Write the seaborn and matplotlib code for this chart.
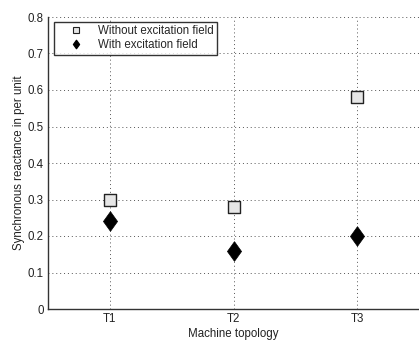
import matplotlib
matplotlib.use("Agg")
import matplotlib.pyplot as plt
import seaborn as sns
import pandas as pd
import numpy as np
from matplotlib.path import Path
from matplotlib.lines import Line2D

topologies = ["T1", "T2", "T3"]
without_field = [0.30, 0.28, 0.58]
with_field = [0.24, 0.16, 0.20]

sns.set_style("white")
plt.rcParams['font.family'] = ['Liberation Sans', 'DejaVu Sans']

FS = 8.3
fig = plt.figure(figsize=(4.19, 3.46), dpi=100)
ax = fig.add_axes([48/419, 1 - 309/346, 371/419, 292/346])

df_wo = pd.DataFrame({"topology": topologies, "value": without_field})
df_w = pd.DataFrame({"topology": topologies, "value": with_field})

diamond = Path([(0, 1), (0.72, 0), (0, -1), (-0.72, 0), (0, 1)],
               [Path.MOVETO, Path.LINETO, Path.LINETO, Path.LINETO, Path.CLOSEPOLY])

sns.scatterplot(data=df_wo, x="topology", y="value", marker="s", s=64,
                color="#e6e6e6", edgecolor="#222222", linewidth=1.0, ax=ax, zorder=3)
sns.scatterplot(data=df_w, x="topology", y="value", marker=diamond, s=200,
                color="black", edgecolor="black", linewidth=0.5, ax=ax, zorder=3)

ax.set_xlim(-0.5, 2.5)
ax.set_ylim(0, 0.8)
ax.set_yticks(np.arange(0, 0.81, 0.1))
ax.set_yticklabels(["0", "0.1", "0.2", "0.3", "0.4", "0.5", "0.6", "0.7", "0.8"])
ax.grid(True, linestyle=(0, (1, 3)), color="#555555", linewidth=0.7)
for s in ["top", "right"]:
    ax.spines[s].set_visible(False)
for s in ["left", "bottom"]:
    ax.spines[s].set_color("#333333")
    ax.spines[s].set_linewidth(1.0)
ax.tick_params(axis="both", direction="in", length=3, labelsize=FS, colors="#222222", pad=3)
ax.set_xlabel("Machine topology", fontsize=FS, color="#222222", labelpad=2)
ax.set_ylabel("Synchronous reactance in per unit", fontsize=FS, color="#222222", labelpad=2)

handles = [Line2D([], [], marker="s", linestyle="none", markersize=4.5, markerfacecolor="#e6e6e6",
                  markeredgecolor="#222222", markeredgewidth=0.8),
           Line2D([], [], marker=diamond, linestyle="none", markersize=6, markerfacecolor="black",
                  markeredgecolor="black")]
leg = ax.legend(handles, ["Without excitation field", "With excitation field"], loc="upper left",
                bbox_to_anchor=(6/371, 1 - 5/292), borderaxespad=0, frameon=True, fancybox=False,
                fontsize=FS, handletextpad=0.3, borderpad=0.3, labelspacing=0.15, handlelength=3.2)
leg.get_frame().set_edgecolor("black")
leg.get_frame().set_linewidth(1.0)

fig.savefig("out.png", dpi=100)
